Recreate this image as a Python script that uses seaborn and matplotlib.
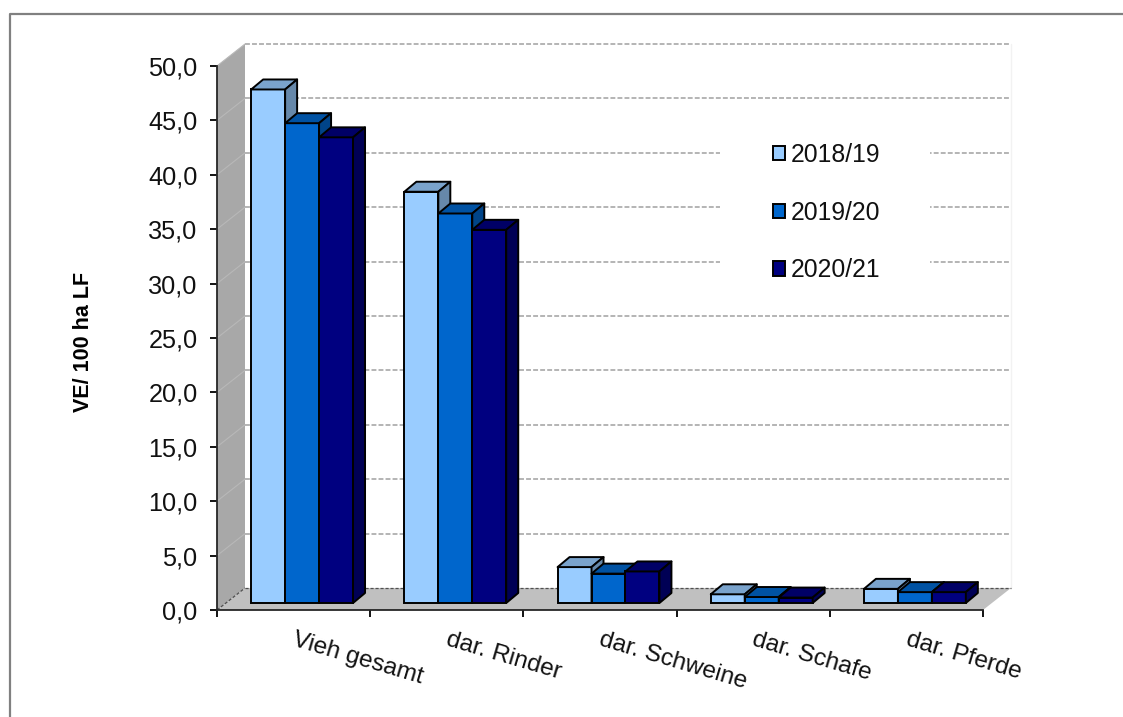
import pandas as pd
import seaborn as sns
import matplotlib.pyplot as plt
from matplotlib.lines import Line2D
from matplotlib.patches import Patch, Polygon, Rectangle

categories = ["Vieh gesamt", "dar. Rinder", "dar. Schweine", "dar. Schafe", "dar. Pferde"]
years = ["2018/19", "2019/20", "2020/21"]
values_2018 = [47.2, 37.8, 3.3, 0.8, 1.3]
values_2019 = [44.1, 35.8, 2.7, 0.55, 1.0]
values_2020 = [42.8, 34.3, 2.9, 0.5, 1.0]

front_colors = ["#99CCFF", "#0066CC", "#000080"]
top_colors = ["#7AA3CC", "#0052A3", "#000066"]
side_colors = ["#6688AA", "#004488", "#000055"]

df = pd.DataFrame({
    "cat": categories * 3,
    "year": [y for y in years for _ in categories],
    "val": values_2018 + values_2019 + values_2020,
})

# pixel scale of the plot area
PX_X = 153.2
PX_Y = 10.88

sns.set_style("ticks")
plt.rcParams["font.family"] = "Liberation Sans"
plt.rcParams["axes.linewidth"] = 1.3
plt.rcParams["text.color"] = "#111111"

fig = plt.figure(figsize=(11.23, 7.17), dpi=100)
ax = fig.add_axes([217 / 1123, (717 - 610) / 717, 766 / 1123, 544 / 717])

sns.barplot(data=df, x="cat", y="val", hue="year", order=categories, hue_order=years,
            palette=front_colors, saturation=1, width=0.665, gap=0,
            edgecolor="black", linewidth=1.4, legend=False, ax=ax)

ax.set_xlim(-0.5, 4.5)
ax.set_ylim(0, 50)

# back wall, side wall and floor
wall_dx = 28 / PX_X
wall_dy = 22 / PX_Y
x0, x1 = -0.5, 4.5
ax.add_patch(Polygon([(x0, 0), (x0 + wall_dx, wall_dy), (x0 + wall_dx, 50 + wall_dy), (x0, 50)],
                     fc="#A8A8A8", ec="none", zorder=0, clip_on=False))
ax.add_patch(Polygon([(x0, 0), (x0 + wall_dx, wall_dy), (x1 + wall_dx, wall_dy), (x1, 0)],
                     fc="#C0C0C0", ec="none", zorder=0, clip_on=False))

grid_kw = dict(color="#A0A0A0", lw=1.1, dashes=(3.2, 1.4), zorder=1, clip_on=False)
for v in range(5, 55, 5):
    ax.plot([x0 + wall_dx, x1 + wall_dx], [v + wall_dy, v + wall_dy], **grid_kw)
    ax.plot([x0, x0 + wall_dx], [v, v + wall_dy], color="#B8B8B8", lw=0.8, zorder=1, clip_on=False)
floor_kw = dict(color="#505050", lw=0.9, dashes=(2.5, 1.5), zorder=1, clip_on=False)
ax.plot([x0 + wall_dx, x1 + wall_dx], [wall_dy, wall_dy], **floor_kw)
ax.plot([x0, x0 + wall_dx], [0, wall_dy], **floor_kw)
ax.plot([x1 + wall_dx, x1 + wall_dx], [wall_dy, 50 + wall_dy], color="#F2F2F2", lw=1, zorder=0, clip_on=False)

# white box behind the legend
ax.add_patch(Rectangle(((720 - 217) / PX_X - 0.5, (610 - 290) / PX_Y), 210 / PX_X, 160 / PX_Y,
                       fc="white", ec="none", zorder=2))

# turn the flat bars into boxes, painted left to right
shift_x = 8.5 / PX_X
shift_y = 7 / PX_Y
depth_x = 12 / PX_X
depth_y = 10 / PX_Y
bars = []
for hue_idx, container in enumerate(ax.containers):
    for bar in container:
        bars.append((bar, hue_idx))
bars.sort(key=lambda b: b[0].get_x())

for i, (bar, hue_idx) in enumerate(bars):
    bar.set_x(bar.get_x() + shift_x)
    bar.set_y(shift_y)
    z = 3 + i
    bar.set_zorder(z)
    l, r = bar.get_x(), bar.get_x() + bar.get_width()
    b, t = shift_y, shift_y + bar.get_height()
    ax.add_patch(Polygon([(l, t), (l + depth_x, t + depth_y), (r + depth_x, t + depth_y), (r, t)],
                         fc=top_colors[hue_idx], ec="black", lw=1.4, zorder=z, joinstyle="round"))
    ax.add_patch(Polygon([(r, b), (r + depth_x, b + depth_y), (r + depth_x, t + depth_y), (r, t)],
                         fc=side_colors[hue_idx], ec="black", lw=1.4, zorder=z, joinstyle="round"))

# axes
sns.despine(ax=ax)
ax.set_yticks(range(0, 55, 5))
ax.set_yticklabels([f"{v:.1f}".replace(".", ",") for v in range(0, 55, 5)], fontsize=18.2, color="#111111")
ax.tick_params(axis="y", length=5, width=1.3, pad=9, color="black")
ax.set_xticks([x0 + i for i in range(6)])
ax.set_xticklabels([])
ax.tick_params(axis="x", which="major", length=5, width=1.3, color="black")
ax.set_xticks(range(5), minor=True)
ax.set_xticklabels(categories, minor=True, fontsize=17.6, rotation=-16.5, ha="left",
                   va="center", rotation_mode="anchor", color="#111111")
ax.tick_params(axis="x", which="minor", length=0, pad=21)
ax.set_xlabel("")
ax.set_ylabel("")
fig.text(83.5 / 1123, 1 - 342 / 717, "VE/ 100 ha LF", rotation=90, fontsize=15.5,
         fontweight="bold", ha="center", va="center", color="black")

handles = [Patch(fc=c, ec="black", lw=1.4) for c in front_colors]
ax.legend(handles, years, loc="upper left", bbox_to_anchor=((773 - 217) / PX_X - 0.5, (610 - 143) / PX_Y),
          bbox_transform=ax.transData, frameon=False, fontsize=17.8, borderpad=0, borderaxespad=0,
          handlelength=0.5, handleheight=0.5, handletextpad=0.2, labelspacing=1.36).set_zorder(60)

# outer chart border, only left and top are in the picture
fig.add_artist(Line2D([10 / 1123, 10 / 1123, 1], [0, 1 - 14 / 717, 1 - 14 / 717], color="#808080", lw=1.6))

fig.savefig("out.png", dpi=100)
